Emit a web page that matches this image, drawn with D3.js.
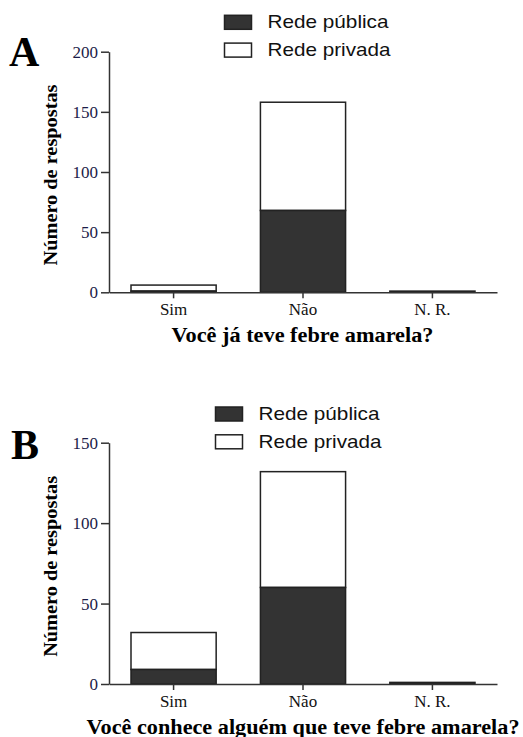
<!DOCTYPE html>
<html>
<head>
<meta charset="utf-8">
<script src="https://cdn.jsdelivr.net/npm/d3@7"></script>
<style>
  body { margin: 0; background: #fff; }
  svg { display: block; }
</style>
</head>
<body>
<svg id="chart" width="523" height="737"></svg>
<script>
// data
let categories = ["Sim", "Não", "N. R."];

let publicaA = [1, 68, 1];
let privadaA = [5, 90, 0];
let ticksA = [0, 50, 100, 150, 200];

let publicaB = [9, 60, 1];
let privadaB = [23, 72, 0];
let ticksB = [0, 50, 100, 150];

let seriesNames = ["Rede pública", "Rede privada"];

const svg = d3.select("#chart");
const serif = "'Liberation Serif', 'Times New Roman', serif";
const sans = "'Liberation Sans', Arial, sans-serif";

function drawPanel(p) {
    let g = svg.append("g");

    let x = d3.scaleBand()
        .domain(categories)
        .range([109, 497])
        .paddingInner(0.342)
        .paddingOuter(0.17);

    let y = d3.scaleLinear()
        .domain([0, p.max])
        .range([p.y0, p.y1]);

    let rows = categories.map((c, i) => ({cat: c, pub: p.pub[i], priv: p.priv[i]}));

    // privada stacked on top of pública
    g.append("g").selectAll("rect.priv")
        .data(rows.filter(d => d.priv > 0))
        .enter().append("rect")
        .attr("x", d => x(d.cat))
        .attr("y", d => y(d.pub + d.priv))
        .attr("width", x.bandwidth())
        .attr("height", d => y(d.pub) - y(d.pub + d.priv))
        .style("fill", "#fff")
        .style("stroke", "#222")
        .style("stroke-width", 1.5);

    g.append("g").selectAll("rect.pub")
        .data(rows)
        .enter().append("rect")
        .attr("x", d => x(d.cat))
        .attr("y", d => y(d.pub))
        .attr("width", x.bandwidth())
        .attr("height", d => y(0) - y(d.pub))
        .style("fill", "#333")
        .style("stroke", "#222")
        .style("stroke-width", 1.5);

    let yAxis = g.append("g")
        .attr("transform", "translate(109,0)")
        .call(d3.axisLeft(y).tickValues(p.ticks).tickSize(8).tickSizeOuter(0).tickPadding(3));
    yAxis.selectAll("text")
        .style("font-family", serif)
        .style("font-size", "17px")
        .style("fill", "#1c1c48");

    let xAxis = g.append("g")
        .attr("transform", `translate(0,${p.y0})`)
        .call(d3.axisBottom(x).tickSize(6).tickSizeOuter(0).tickPadding(5));
    xAxis.selectAll("text")
        .style("font-family", serif)
        .style("font-size", "17px")
        .style("fill", "#111");

    g.selectAll(".domain, .tick line")
        .style("stroke", "#333")
        .style("stroke-width", 1.5);

    // panel letter
    g.append("text")
        .attr("x", p.letterX)
        .attr("y", p.letterY)
        .style("font-family", serif)
        .style("font-weight", "bold")
        .style("font-size", "42px")
        .text(p.letter);

    // y axis title
    g.append("text")
        .attr("transform", `translate(57, ${(p.y0 + p.y1) / 2 + 3}) rotate(-90)`)
        .style("text-anchor", "middle")
        .style("font-family", serif)
        .style("font-weight", "bold")
        .style("font-size", "19px")
        .attr("textLength", 181)
        .attr("lengthAdjust", "spacingAndGlyphs")
        .text("Número de respostas");

    // x axis title
    g.append("text")
        .attr("x", p.titleX)
        .attr("y", p.titleY)
        .style("text-anchor", "middle")
        .style("font-family", serif)
        .style("font-weight", "bold")
        .style("font-size", "20px")
        .attr("textLength", p.titleW)
        .attr("lengthAdjust", "spacingAndGlyphs")
        .text(p.title);

    // legend
    let fills = ["#333", "#fff"];
    let leg = g.append("g").selectAll("g")
        .data(seriesNames)
        .enter().append("g")
        .attr("transform", (d, i) => `translate(${p.legX}, ${p.legY + i * 27.8})`);
    leg.append("rect")
        .attr("width", 27)
        .attr("height", 14)
        .style("fill", (d, i) => fills[i])
        .style("stroke", "#222")
        .style("stroke-width", 1.5);
    leg.append("text")
        .attr("x", 43)
        .attr("y", 13)
        .style("font-family", sans)
        .style("font-size", "19px")
        .style("fill", "#111")
        .attr("textLength", (d, i) => i == 0 ? 121 : 123)
        .attr("lengthAdjust", "spacingAndGlyphs")
        .text(d => d);
}

drawPanel({
    pub: publicaA, priv: privadaA, ticks: ticksA, max: 200,
    y0: 292.3, y1: 51.7,
    letter: "A", letterX: 9, letterY: 66,
    title: "Você já teve febre amarela?", titleX: 302.5, titleY: 341.5, titleW: 262,
    legX: 224.5, legY: 15.3
});

drawPanel({
    pub: publicaB, priv: privadaB, ticks: ticksB, max: 150,
    y0: 684, y1: 442.7,
    letter: "B", letterX: 11, letterY: 459,
    title: "Você conhece alguém que teve febre amarela?", titleX: 303, titleY: 734, titleW: 433,
    legX: 215.5, legY: 407
});
</script>
</body>
</html>
